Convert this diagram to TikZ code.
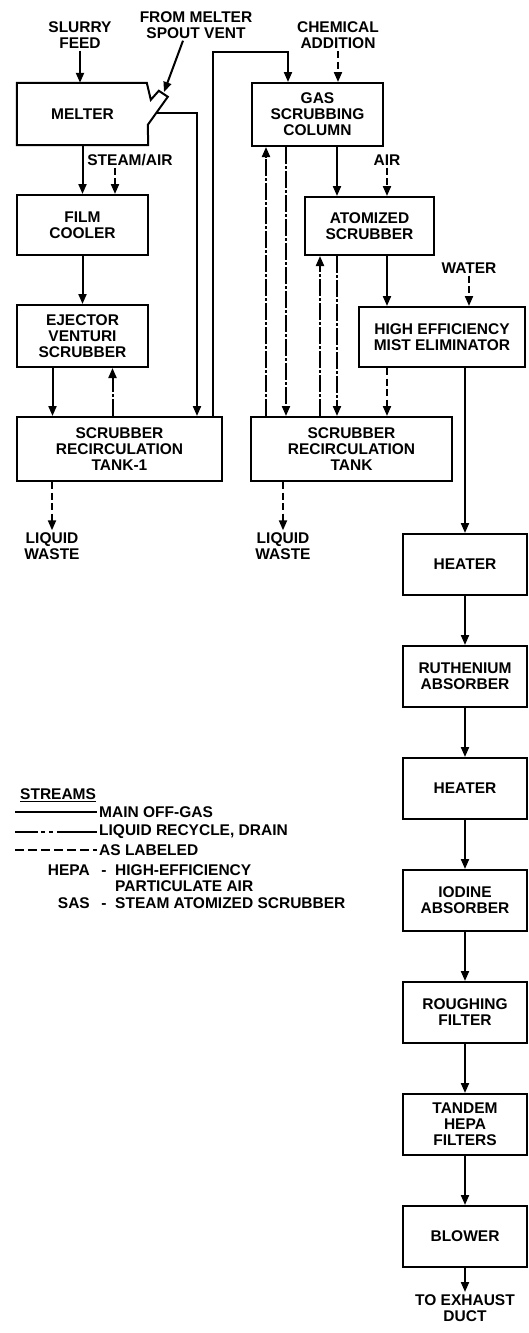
\documentclass[tikz,border=0pt]{standalone}
\usepackage{fontspec}
\setmainfont{Liberation Sans}
\usetikzlibrary{arrows.meta, positioning, calc}

\begin{document}
\begin{tikzpicture}[
    x=1pt, y=-1pt,
    every node/.style={font=\bfseries\fontsize{15.5}{16}\selectfont},
    node distance=49pt,
    >={Triangle[length=10pt, width=8pt]},
    unit/.style={rectangle, draw=black, line width=2pt, fill=white, inner sep=2pt, align=center},
    train/.style={unit, minimum width=124pt, minimum height=61pt},
    tag/.style={align=center, inner sep=2pt},
    offgas/.style={line width=2pt},
    recycle/.style={offgas, dash pattern=on 17pt off 2pt on 3pt off 2pt},
    aslabeled/.style={offgas, dash pattern=on 7pt off 3.5pt}
  ]
    \useasboundingbox (0,0) rectangle (528,1333);

    % melter and first scrubbing line
    \node[tag, minimum width=131pt, minimum height=62pt] (melter) at (82.5,114) {MELTER};
    \draw[line width=2pt] (melter.north west) -- ++(130,0) -- ++(4,17) -- ++(8,-9) -- ++(9,6)
      -- ++(-20,28) -- (melter.south east) -- (melter.south west) -- cycle;
    \coordinate (spouttip) at (164,92);
    \coordinate (spoutout) at (157,113);
    \node[unit, minimum width=131pt, minimum height=60pt] (film) at (82.5,225) {FILM\\COOLER};
    \node[unit, minimum width=131pt, minimum height=62pt] (ejector) at (82.5,336) {EJECTOR\\VENTURI\\SCRUBBER};
    \node[unit, minimum width=205pt, minimum height=64pt] (tank1) at (119.5,449) {SCRUBBER\\RECIRCULATION\\TANK-1};

    % second scrubbing line
    \node[unit, minimum width=131pt, minimum height=63pt] (column) at (317.5,114.5) {GAS\\SCRUBBING\\COLUMN};
    \node[unit, minimum width=129pt, minimum height=58pt] (atomized) at (369.5,226) {ATOMIZED\\SCRUBBER};
    \node[unit, minimum width=166pt, minimum height=60pt] (mist) at (442,337) {HIGH EFFICIENCY\\MIST ELIMINATOR};
    \node[unit, minimum width=201pt, minimum height=64pt] (tank2) at (351.5,449) {SCRUBBER\\RECIRCULATION\\TANK};

    % off-gas train
    \node[train] (heat1) at (465,564.5) {HEATER};
    \node[train, below=of heat1] (ruth) {RUTHENIUM\\ABSORBER};
    \node[train, below=of ruth] (heat2) {HEATER};
    \node[train, below=of heat2] (iodine) {IODINE\\ABSORBER};
    \node[train, below=of iodine] (rough) {ROUGHING\\FILTER};
    \node[train, below=of rough] (tandem) {TANDEM\\HEPA\\FILTERS};
    \node[train, below=of tandem] (blower) {BLOWER};
    \node[tag, below=24pt of blower] (exhaust) {TO EXHAUST\\DUCT};

    % stream labels
    \node[tag] (slurry) at (80,35) {SLURRY\\FEED};
    \node[tag] (vent) at (196,25) {FROM MELTER\\SPOUT VENT};
    \node[tag] (chem) at (338,35.5) {CHEMICAL\\ADDITION};
    \node[tag] (steam) at (130,160) {STEAM/AIR};
    \node[tag] (air) at (387,160) {AIR};
    \node[tag] (water) at (469,268) {WATER};
    \node[tag] (waste1) at (52,546) {LIQUID\\WASTE};
    \node[tag] (waste2) at (283,546) {LIQUID\\WASTE};
    \coordinate (vx) at (197,0);
    \coordinate (ux) at (213,0);
    \coordinate (cx) at (288,52);

    % connectors, left
    \draw[offgas, ->] (slurry) -- (slurry |- melter.north);
    \draw[offgas, ->] ([xshift=-13pt]vent.south) -- (spouttip);
    \draw[offgas, ->] (spoutout) -| (vx |- tank1.north);
    \draw[offgas, ->] (ux |- tank1.north) |- (cx) -- (cx |- column.north);
    \draw[offgas, ->] (melter) -- (film);
    \draw[aslabeled, ->] ([xshift=-15pt]steam.south) -- ([xshift=-15pt]steam.south |- film.north);
    \draw[offgas, ->] (film) -- (ejector);
    \draw[offgas, ->] ([xshift=-30pt]ejector.south) -- ([xshift=-30pt]ejector.south |- tank1.north);
    \draw[recycle, ->] ([xshift=30pt]ejector.south |- tank1.north) -- ([xshift=30pt]ejector.south);
    \draw[aslabeled, ->] (tank1.south -| waste1) -- (waste1);

    % connectors, middle
    \draw[aslabeled, ->] (chem) -- (chem |- column.north);
    \draw[offgas, ->] ([xshift=33pt]atomized.north west |- column.south) -- ([xshift=33pt]atomized.north west);
    \draw[aslabeled, ->] (air) -- (air |- atomized.north);
    \draw[recycle, ->] ([xshift=15pt]column.south west |- tank2.north) -- ([xshift=15pt]column.south west);
    \draw[recycle, ->] ([xshift=35pt]column.south west) -- ([xshift=35pt]column.south west |- tank2.north);
    \draw[recycle, ->] ([xshift=16pt]atomized.south west |- tank2.north) -- ([xshift=16pt]atomized.south west);
    \draw[recycle, ->] ([xshift=33pt]atomized.south west) -- ([xshift=33pt]atomized.south west |- tank2.north);
    \draw[offgas, ->] (air |- atomized.south) -- (air |- mist.north);
    \draw[aslabeled, ->] (air |- mist.south) -- (air |- tank2.north);
    \draw[aslabeled, ->] (water) -- (water |- mist.north);
    \draw[aslabeled, ->] (tank2.south -| waste2) -- (waste2);

    % connectors, right
    \draw[offgas, ->] (mist.south -| heat1) -- (heat1);
    \draw[offgas, ->] (heat1) -- (ruth);
    \draw[offgas, ->] (ruth) -- (heat2);
    \draw[offgas, ->] (heat2) -- (iodine);
    \draw[offgas, ->] (iodine) -- (rough);
    \draw[offgas, ->] (rough) -- (tandem);
    \draw[offgas, ->] (tandem) -- (blower);
    \draw[offgas, ->] (blower) -- (exhaust);

    % legend
    \node[tag, anchor=west] (streams) at (18,795) {\underline{STREAMS}};
    \node[tag, anchor=west] (key1) at (97,812) {MAIN OFF-GAS};
    \node[tag, anchor=west] (key2) at (97,832) {LIQUID RECYCLE, DRAIN};
    \node[tag, anchor=west] (key3) at (97,850) {AS LABELED};
    \draw[offgas] (key1.west) ++(-82,0) -- (key1.west);
    \draw[offgas, dash pattern=on 23pt off 3pt on 4pt off 4pt on 4pt off 4pt on 45pt] (key2.west) ++(-82,0) -- (key2.west);
    \draw[offgas, dash pattern=on 9pt off 4pt] (key3.west) ++(-82,0) -- (key3.west);
    \node[tag, anchor=base east] (hepa) at (92,875) {HEPA};
    \node[tag, anchor=base] (hepadash) at (104,875) {-};
    \node[tag, anchor=base west] (hepatext) at (113,875) {HIGH-EFFICIENCY};
    \node[tag, anchor=base west] (hepatext2) at (113,891) {PARTICULATE AIR};
    \node[tag, anchor=base east] (sas) at (92,908) {SAS};
    \node[tag, anchor=base] (sasdash) at (104,908) {-};
    \node[tag, anchor=base west] (sastext) at (113,908) {STEAM ATOMIZED SCRUBBER};
  \end{tikzpicture}
\end{document}
